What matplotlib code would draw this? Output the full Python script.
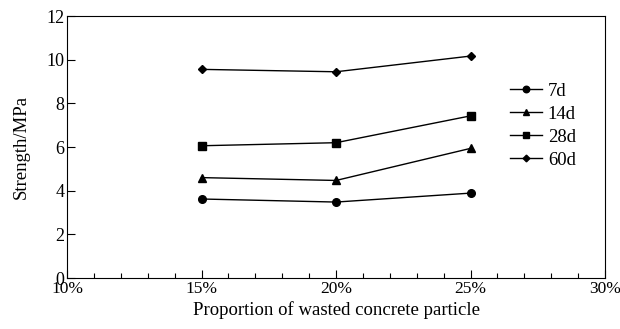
import matplotlib.pyplot as plt
import matplotlib.transforms as mtransforms
from matplotlib.ticker import MultipleLocator, FuncFormatter

plt.rcParams['font.family'] = ['Liberation Serif', 'DejaVu Serif']
plt.rcParams['font.size'] = 13.5

proportion = [15, 20, 25]
s7 = [3.62, 3.48, 3.89]
s14 = [4.60, 4.47, 5.94]
s28 = [6.06, 6.20, 7.43]
s60 = [9.56, 9.45, 10.17]
labels = ["7d", "14d", "28d", "60d"]
markers = ["o", "^", "s", "D"]
sizes = [5.5, 5.5, 5.5, 4]

fig = plt.figure(figsize=(6.2, 3.29), dpi=100)
ax = fig.add_axes([0.108, 0.155, 0.868, 0.796])

for vals, lab, m, ms in zip([s7, s14, s28, s60], labels, markers, sizes):
	ax.plot(proportion, vals, color="black", marker=m, markersize=ms, linewidth=1, label=lab)

ax.set_xlim(10, 30)
ax.set_ylim(0, 12)
ax.xaxis.set_major_locator(MultipleLocator(5))
ax.xaxis.set_minor_locator(MultipleLocator(1))
ax.yaxis.set_major_locator(MultipleLocator(2))
ax.xaxis.set_major_formatter(FuncFormatter(lambda v, p: "%d%%" % v))
ax.tick_params(direction="in", length=6, width=0.8, pad=2, labelsize=13)
ax.tick_params(axis="x", labelsize=12.5)
ax.tick_params(which="minor", direction="in", length=3.5, width=0.8)
ax.set_xlabel("Proportion of wasted concrete particle", labelpad=3)
ax.set_ylabel("Strength/MPa", labelpad=12)

# nudge the edge labels inward a little, like the original
fig.canvas.draw()
xt = ax.get_xticklabels()
xt[0].set_transform(xt[0].get_transform() + mtransforms.ScaledTranslation(4 / 100, 0, fig.dpi_scale_trans))
xt[-1].set_transform(xt[-1].get_transform() + mtransforms.ScaledTranslation(-4 / 100, 0, fig.dpi_scale_trans))

ax.legend(loc="upper left", bbox_to_anchor=(0.81, 0.775), frameon=False,
	handlelength=1.7, handletextpad=0.3, labelspacing=0.32, borderaxespad=0,
	markerscale=0.85)

fig.savefig("out.png", dpi=100)
